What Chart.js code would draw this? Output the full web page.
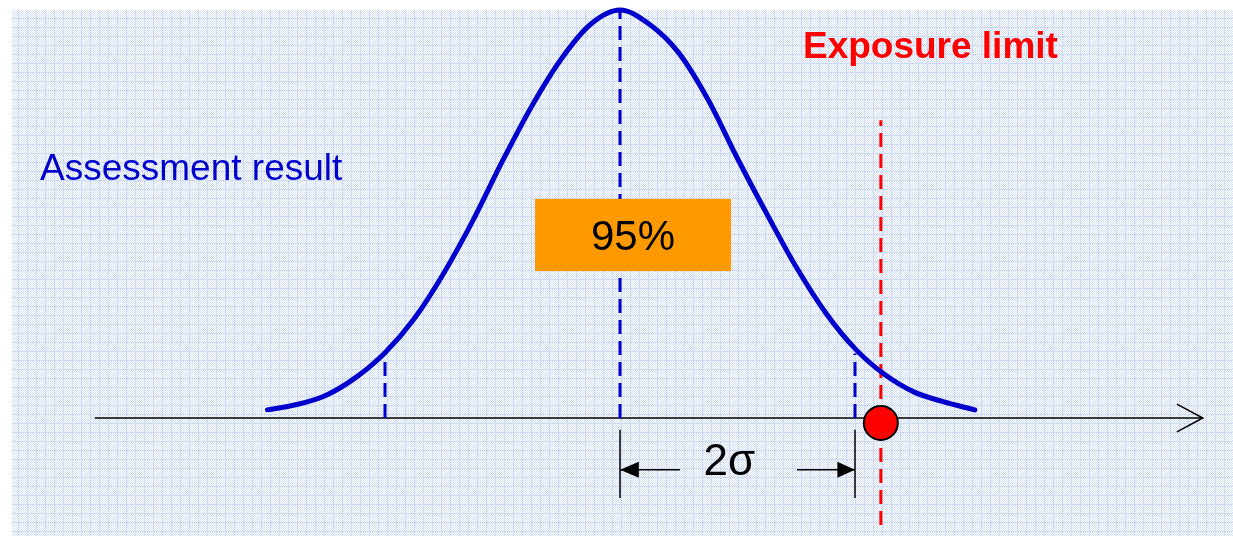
<!DOCTYPE html>
<html>
<head>
<meta charset="utf-8">
<script src="https://cdn.jsdelivr.net/npm/chart.js@4/dist/chart.umd.min.js"></script>
<style>
  html, body { margin: 0; padding: 0; background: #fff; }
  canvas { display: block; }
</style>
</head>
<body>
<canvas id="bell" width="1233" height="536"></canvas>
<script>
    // x in sigma units (mean = 0), y as a fraction of the peak height
    const curveX = [-3.0, -2.75, -2.5, -2.25, -2.0, -1.75, -1.5, -1.25, -1.0, -0.75, -0.5, -0.25, 0,
                    0.25, 0.5, 0.75, 1.0, 1.25, 1.5, 1.75, 2.0, 2.25, 2.5, 2.75, 3.02];
    const curveY = [0.020, 0.033, 0.056, 0.099, 0.160, 0.244, 0.355, 0.485, 0.630, 0.765, 0.880, 0.965, 1.0,
                    0.965, 0.895, 0.780, 0.636, 0.500, 0.370, 0.258, 0.170, 0.107, 0.064, 0.040, 0.020];

    const meanX = 0;
    const sigmaMarks = [-2, 2];
    const sigmaMarkTop = 0.158;
    const limitX = 2.22;
    const limitSpan = [-0.262, 0.730];
    const axisSpan = [-4.47, 4.96];
    const dimY = -0.127;
    const dimTicks = [-0.029, -0.196];

    const blue = "#0000cc";
    const red = "#ff0000";

    const pts = (xs, ys) => xs.map((x, i) => ({ x, y: ys[i] }));
    const vline = (x, y0, y1) => [{ x, y: y0 }, { x, y: y1 }];

    // light blue dotted paper behind everything
    const paper = {
        id: "paper",
        beforeDraw(chart) {
            const ctx = chart.ctx;
            const tile = document.createElement("canvas");
            tile.width = 9; tile.height = 9;
            const t = tile.getContext("2d");
            t.fillStyle = "#ffffff";
            t.fillRect(0, 0, 9, 9);
            for (let i = 0; i < 9; i++) {
                for (let j = 0; j < 9; j++) {
                    if (i === 0 || j === 0) {
                        t.fillStyle = (i + j) % 2 ? "#bccff0" : "#d8e3f5";
                        t.fillRect(i, j, 1, 1);
                    } else if ((i + j) % 2 === 0) {
                        t.fillStyle = "#d6e1f5";
                        t.fillRect(i, j, 1, 1);
                    }
                }
            }
            ctx.save();
            ctx.fillStyle = "#ffffff";
            ctx.fillRect(0, 0, chart.width, chart.height);
            ctx.fillStyle = ctx.createPattern(tile, "repeat");
            ctx.fillRect(12, 10, chart.width - 12, chart.height - 10);
            ctx.restore();
        }
    };

    // box, texts and dimension arrowheads
    const notes = {
        id: "notes",
        afterDatasetsDraw(chart) {
            const { ctx, scales: { x, y } } = chart;
            ctx.save();

            // orange 95% box
            const bx0 = x.getPixelForValue(-0.723), bx1 = x.getPixelForValue(0.945);
            const by0 = y.getPixelForValue(0.537), by1 = y.getPixelForValue(0.360);
            ctx.fillStyle = "#ff9900";
            ctx.fillRect(bx0, by0, bx1 - bx0, by1 - by0);
            ctx.fillStyle = "#000";
            ctx.font = "42px 'Liberation Sans', Arial, sans-serif";
            ctx.textAlign = "center";
            ctx.textBaseline = "alphabetic";
            ctx.fillText("95%", (bx0 + bx1) / 2, y.getPixelForValue(0.412));

            ctx.font = "44px 'Liberation Sans', Arial, sans-serif";
            ctx.fillText("2σ", x.getPixelForValue(0.93), y.getPixelForValue(-0.140));

            ctx.textAlign = "left";
            ctx.fillStyle = blue;
            ctx.font = "37px 'Liberation Sans', Arial, sans-serif";
            ctx.fillText("Assessment result", x.getPixelForValue(-4.936), y.getPixelForValue(0.583));

            ctx.fillStyle = red;
            ctx.font = "bold 37px 'Liberation Sans', Arial, sans-serif";
            ctx.fillText("Exposure limit", x.getPixelForValue(1.557), y.getPixelForValue(0.882));

            // filled arrowheads of the 2 sigma dimension
            const ay = y.getPixelForValue(dimY);
            const head = (tip, back) => {
                ctx.beginPath();
                ctx.moveTo(x.getPixelForValue(tip), ay);
                ctx.lineTo(x.getPixelForValue(back), ay - 8);
                ctx.lineTo(x.getPixelForValue(back), ay + 8);
                ctx.closePath();
                ctx.fill();
            };
            ctx.fillStyle = "#000";
            head(meanX, 0.16);
            head(2, 1.85);
            ctx.restore();
        }
    };

    const line = (data, color, width, dash) => ({
        data, showLine: true, borderColor: color, borderWidth: width,
        borderDash: dash || [], pointRadius: 0, fill: false, tension: 0
    });

    new Chart(document.getElementById("bell"), {
        type: "scatter",
        data: {
            datasets: [
                {
                    data: [{ x: limitX, y: -0.012 }],
                    pointRadius: 17, pointBackgroundColor: red,
                    pointBorderColor: "#000", pointBorderWidth: 2, showLine: false
                },
                { ...line(pts(curveX, curveY), blue, 5), cubicInterpolationMode: "monotone", borderCapStyle: "round" },
                line(vline(limitX, limitSpan[0], limitSpan[1]), red, 3, [14, 7]),
                line(vline(meanX, 0, 1), blue, 3, [14, 7]),
                line(vline(sigmaMarks[0], 0, sigmaMarkTop), blue, 3, [14, 7]),
                line(vline(sigmaMarks[1], 0, sigmaMarkTop), blue, 3, [14, 7]),
                line(vline(meanX, dimTicks[0], dimTicks[1]), "#000", 1.5),
                line(vline(2, dimTicks[0], dimTicks[1]), "#000", 1.5),
                line([{ x: meanX, y: dimY }, { x: 0.51, y: dimY }], "#000", 1.5),
                line([{ x: 1.506, y: dimY }, { x: 2, y: dimY }], "#000", 1.5),
                line([{ x: axisSpan[0], y: 0 }, { x: axisSpan[1], y: 0 }], "#000", 1.5),
                line([{ x: 4.74, y: 0.034 }, { x: axisSpan[1], y: 0 }, { x: 4.74, y: -0.034 }], "#000", 1.5)
            ]
        },
        options: {
            responsive: false,
            animation: false,
            devicePixelRatio: 1,
            layout: { padding: 0, autoPadding: false },
            plugins: { legend: { display: false }, tooltip: { enabled: false } },
            scales: {
                x: { type: "linear", min: -620 / 117.5, max: 613 / 117.5, display: false },
                y: { type: "linear", min: -118 / 408, max: 418 / 408, display: false }
            }
        },
        plugins: [paper, notes]
    });
</script>
</body>
</html>
